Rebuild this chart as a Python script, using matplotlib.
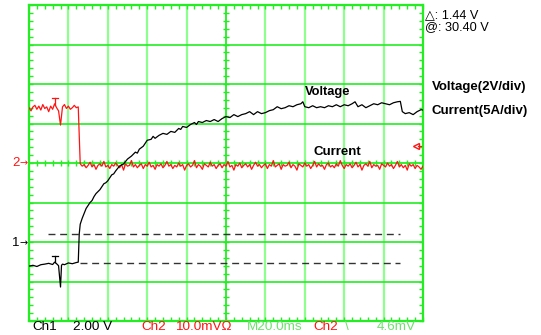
import matplotlib
import matplotlib.pyplot as plt
import numpy as np

matplotlib.use('agg')
plt.rcParams['font.family'] = ['Liberation Sans', 'DejaVu Sans']

# scope settings
MS_PER_DIV = 20.0
VOLTS_PER_DIV = 2.0
AMPS_PER_DIV = 5.0
CH1_OFFSET = -2.0   # divisions from screen centre
CH2_OFFSET = 0.0

# Ch1 voltage: (time ms, volts)
voltage_trace = [
    (0, -1.22), (2, -1.18), (4, -1.24), (6, -1.15), (8, -1.12), (10, -1.08),
    (12, -1.14), (13, -1.02), (14, -1.10), (15, -1.20), (16, -2.28), (16.5, -1.18),
    (17, -1.12), (18, -1.15), (20, -1.06), (22, -1.10), (24, -1.04), (25, -1.02),
    (25.5, 0.41), (26, 0.90), (27, 1.20), (28, 1.45), (29, 1.70), (30, 1.85),
    (31, 2.00), (32, 2.10), (33, 2.30), (34, 2.45), (35, 2.55), (36, 2.65),
    (38, 2.95), (39, 3.00), (40, 3.10), (42, 3.40), (43, 3.45), (44, 3.60),
    (46, 3.85), (48, 3.95), (50, 4.20), (52, 4.35), (54, 4.55), (55, 4.50),
    (56, 4.70), (58, 4.85), (60, 5.15), (62, 5.20), (63, 5.35), (64, 5.25),
    (66, 5.40), (68, 5.50), (70, 5.45), (72, 5.60), (74, 5.55), (76, 5.75),
    (77, 5.70), (78, 5.85), (80, 5.80), (82, 5.95), (84, 6.05), (85, 5.95),
    (86, 6.10), (88, 6.05), (90, 6.15), (92, 6.10), (94, 6.20), (96, 6.10),
    (98, 6.25), (100, 6.35), (102, 6.30), (104, 6.45), (106, 6.35), (108, 6.45),
    (110, 6.50), (112, 6.60), (114, 6.45), (116, 6.60), (118, 6.50), (120, 6.55),
    (122, 6.65), (124, 6.70), (126, 6.85), (128, 6.75), (130, 6.80), (132, 6.90),
    (134, 6.85), (136, 6.95), (138, 7.00), (139, 7.10), (140, 6.85), (142, 6.80),
    (144, 6.90), (146, 6.80), (148, 6.85), (150, 6.80), (152, 6.90), (154, 6.85),
    (156, 6.95), (158, 6.85), (160, 6.95), (162, 6.90), (164, 7.00), (165.5, 7.10),
    (167, 6.85), (169, 6.95), (171, 6.80), (173, 6.90), (175, 7.00), (177, 6.95),
    (179, 7.05), (181, 7.00), (183, 6.95), (185, 7.05), (187, 7.10), (188.5, 7.12),
    (189.5, 6.60), (191, 6.50), (193, 6.55), (195, 6.45), (197, 6.60), (199, 6.70),
    (200, 6.68),
]

# Ch2 current, one sample per ms from 0 to 200 ms (amps)
current_a = [
    7.0, 6.6, 7.1, 7.3, 6.8, 7.2, 6.7, 7.4, 6.9, 7.1, 6.5, 7.2, 6.8, 7.5, 7.0,
    6.6, 4.8, 7.1, 7.4, 6.9, 7.2, 6.8, 7.0, 7.3, 7.0, 7.1,
    -0.1, -0.4, -0.2, -0.6, -0.3, 0.1, -0.5, -0.2, -0.8, -0.3, -0.1, -0.4, 0.2, -0.5, -0.3,
    -0.7, -0.2, -0.4, 0.0, -0.3, -0.6, -0.2, -0.9, -0.1, -0.4, -0.3, 0.3, -0.5, -0.2, -0.6, -0.3, -0.1, -0.7, -0.2, -0.4,
    0.1, -0.5, -0.3, -0.8, -0.2, -0.4, -0.1, -0.6, -0.3, 0.2, -0.4, -0.2, -0.7, -0.3, -0.5, 0.0, -0.4, -0.2, -0.9, -0.3,
    -0.1, -0.5, -0.3, 0.3, -0.6, -0.2, -0.4, -0.8, -0.1, -0.3, -0.5, 0.1, -0.4, -0.2, -0.7, -0.3, -0.1, -0.6, -0.2, -0.4,
    0.2, -0.5, -0.3, -0.9, -0.2, -0.4, 0.0, -0.6, -0.3, -0.1, -0.5, -0.2, -0.8, -0.3, 0.1, -0.4, -0.2, -0.6, -0.3, -0.1,
    -0.7, -0.2, -0.4, 0.3, -0.5, -0.3, -0.1, -0.8, -0.2, -0.4, -0.3, 0.1, -0.6, -0.2, -0.4, -0.9, -0.1, -0.3, -0.5, 0.0,
    -0.4, -0.2, -0.7, -0.3, 0.2, -0.5, -0.1, -0.4, -0.3, -0.8, -0.2, 0.0, -0.5, -0.3, -0.6, -0.1, -0.4, 0.3, -0.3, -0.7,
    -0.2, -0.4, -0.1, -0.6, -0.3, 0.1, -0.5, -0.2, -0.9, -0.3, -0.1, -0.4, 0.2, -0.6, -0.2, -0.4, -0.3, -0.8, -0.1, -0.3,
    -0.5, 0.0, -0.4, -0.2, -0.7, -0.3, 0.2, -0.5, -0.2, -0.6, -0.3, -0.9, -0.1, -0.4, -0.2, -0.7, -0.3, -0.5, -0.8, -0.4,
]

trigger_ms = 13.2
trigger_level_a = 2.1
cursor_low_v = -1.06
cursor_delta_v = 1.44

GRID = '#22ee22'
GRID_SOFT = '#8cff8c'
RED = '#ff1414'
TEXT_GREEN = '#6ee06e'

W, H = 541, 335
fig = plt.figure(figsize=(W / 100, H / 100), dpi=100)
ax = fig.add_axes([29 / W, (H - 321) / H, 394 / W, 316 / H])
ax.set_xlim(0, 10)
ax.set_ylim(-4, 4)

# graticule
for k in range(1, 10):
    if k == 5:
        ax.axvline(k, color=GRID, lw=1.3, zorder=1)
    else:
        ax.axvline(k, color=GRID_SOFT, lw=1.6, zorder=1)
for k in range(-3, 4):
    ax.axhline(k, color=GRID, lw=1.2 if k else 1.3, zorder=1)
for side in ax.spines.values():
    side.set_color(GRID)
    side.set_linewidth(1.6)

ax.set_xticks([])
ax.set_yticks([])
ax.set_xticks(np.arange(0, 10.01, 0.2), minor=True)
ax.set_yticks(np.arange(-4, 4.01, 0.2), minor=True)
ax.tick_params(which='minor', direction='in', length=3, width=1, color=GRID,
               top=True, right=True, labelbottom=False, labelleft=False)

# ticks along the centre cross
minor_x = np.arange(0.2, 10, 0.2)
minor_y = np.arange(-3.8, 4, 0.2)
ax.plot(minor_x, np.zeros_like(minor_x), ls='none', marker='|', ms=5, mew=1,
        color=GRID, zorder=1)
ax.plot(np.full_like(minor_y, 5.0), minor_y, ls='none', marker='_', ms=5, mew=1,
        color=GRID, zorder=1)

# cursors
cursor_high_v = cursor_low_v + cursor_delta_v
ax.plot([0.48, 9.42], [CH1_OFFSET + cursor_high_v / VOLTS_PER_DIV] * 2,
        color='#333333', lw=1, dashes=(5, 3.4), zorder=2)
ax.plot([1.3, 9.42], [CH1_OFFSET + cursor_low_v / VOLTS_PER_DIV] * 2,
        color='#333333', lw=1, dashes=(5, 3.4), zorder=2)

# traces
v_ms = np.array([p[0] for p in voltage_trace])
v_val = np.array([p[1] for p in voltage_trace])
v_x = v_ms / MS_PER_DIV
v_y = CH1_OFFSET + v_val / VOLTS_PER_DIV
i_ms = np.arange(len(current_a), dtype=float)
i_x = i_ms / MS_PER_DIV
i_y = CH2_OFFSET + np.array(current_a) / AMPS_PER_DIV

ax.plot(i_x, i_y, color=RED, lw=0.9, zorder=3)
ax.plot(v_x, v_y, color='black', lw=0.9, zorder=4)

# trigger point marks on both traces
tx = trigger_ms / MS_PER_DIV
for xs, ys, col in ((v_x, v_y, 'black'), (i_x, i_y, RED)):
    base = np.interp(tx, xs, ys)
    ax.plot([tx, tx], [base, base + 0.17], color=col, lw=0.9, zorder=5)
    ax.plot([tx - 0.07, tx + 0.07], [base + 0.17] * 2, color=col, lw=0.9, zorder=5)

# trigger level arrow for Ch2
lvl = CH2_OFFSET + trigger_level_a / AMPS_PER_DIV
ax.plot([9.83], [lvl], marker='<', ms=5, mfc='white', mec=RED, mew=1, zorder=5)
ax.plot([9.87, 9.96], [lvl, lvl], color=RED, lw=0.9, zorder=5)

ax.text(7.0, 1.8, 'Voltage', fontsize=9.3, fontweight='bold', va='center', ha='left')
ax.text(7.23, 0.27, 'Current', fontsize=9.5, fontweight='bold', va='center', ha='left')


def label(x, y, s, **kw):
    fig.text(x / W, 1 - y / H, s, va='center', ha='left', **kw)


# channel ground markers
for y, name, col in ((163, '2', RED), (243, '1', 'black')):
    label(12, y, name, color=col, fontsize=9.5)
    label(19, y, '→', color=col, fontsize=7, family='DejaVu Sans')

label(425, 15, '△: 1.44 V', fontsize=9.2)
label(425, 27.5, '@: 30.40 V', fontsize=9.2)
label(432, 87, 'Voltage(2V/div)', fontsize=9.5, fontweight='bold')
label(432, 111, 'Current(5A/div)', fontsize=9.5, fontweight='bold')

label(32, 327, 'Ch1', fontsize=9.7)
label(73, 327, '2.00 V', fontsize=9.7)
label(141, 327, 'Ch2', fontsize=9.7, color=RED)
label(175, 327, '10.0mVΩ', fontsize=9.7, color=RED)
label(247, 327, 'M20.0ms', fontsize=9.7, color=TEXT_GREEN)
label(313, 327, 'Ch2', fontsize=9.7, color=RED)
label(345, 327, '\\', fontsize=9.7, color=TEXT_GREEN)
label(377, 327, '4.6mV', fontsize=9.7, color=TEXT_GREEN)

fig.savefig('out.png', dpi=100)
